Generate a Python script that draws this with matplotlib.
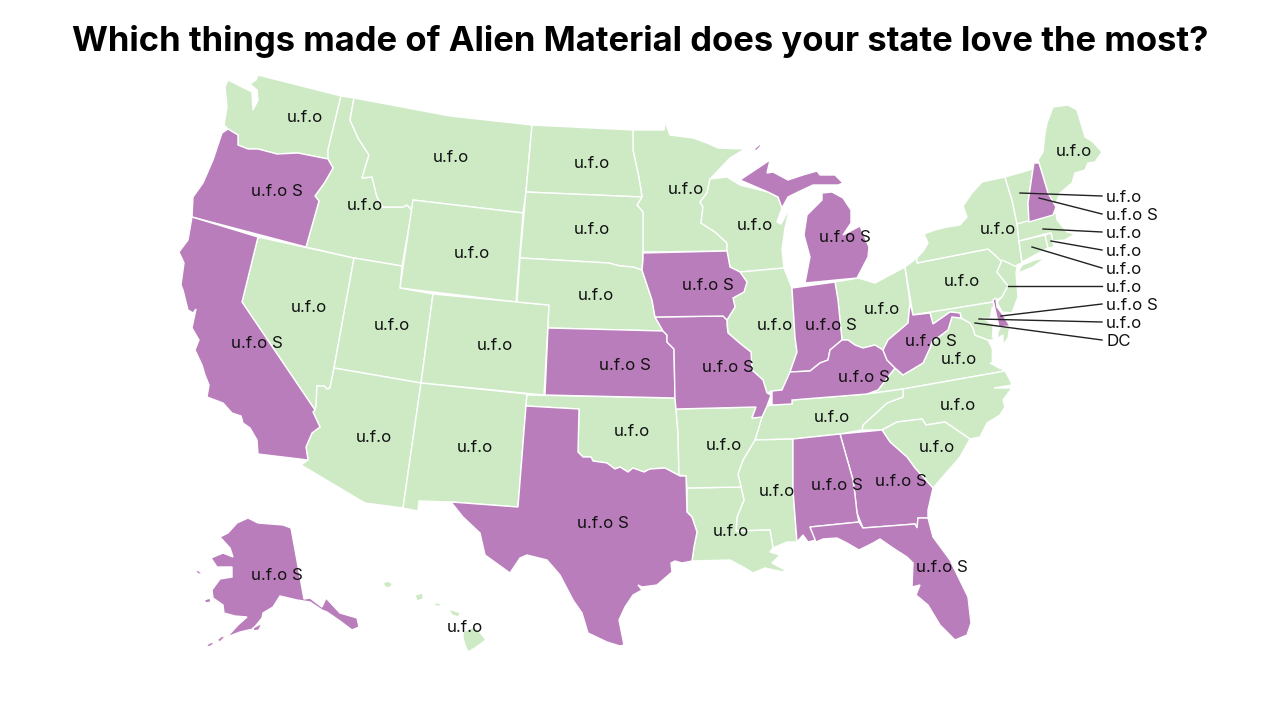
import matplotlib
matplotlib.use("Agg")
import matplotlib.pyplot as plt
from matplotlib.patches import Polygon

plt.rcParams["font.family"] = ["Inter", "DejaVu Sans"]

GREEN = "#cdeac5"
PURPLE = "#b97dbb"

# state outlines in pixels
WA = [(258,75),(341,96),(328,150),(328,159),(298,153),(277,154),(258,149),(248,149),(238,145),(238,135),(228,129),(224,125),(227,107),(225,87),(228,80),(242,87),(252,92),(253,110),(258,100),(257,90),(250,84),(256,80)]
OR = [(228,129),(238,135),(238,145),(248,149),(258,149),(277,154),(298,153),(328,159),(333,168),(325,182),(315,196),(319,201),(306,247),(192,217),(193,197),(203,183),(213,160),(222,133)]
CA = [(192,217),(258,237),(242,302),(315,410),(313,412),(320,427),(312,433),(306,447),(308,460),(258,454),(257,440),(250,428),(243,423),(241,416),(232,413),(223,403),(207,397),(209,385),(205,375),(202,365),(195,350),(199,340),(192,328),(196,309),(193,313),(188,310),(183,290),(181,285),(184,263),(179,252),(188,240)]
NV = [(258,237),(354,258),(334,368),(330,388),(327,389),(324,386),(317,386),(316,407),(315,410),(242,302)]
ID = [(341,96),(354,98),(350,120),(358,138),(369,155),(365,168),(362,178),(372,177),(377,197),(383,207),(403,207),(407,205),(412,210),(402,266),(354,258),(306,247),(319,201),(315,196),(325,182),(333,168),(328,159),(328,150)]
MT = [(354,98),(450,116),(532,125),(526,192),(523,213),(413,200),(412,210),(407,205),(403,207),(383,207),(377,197),(372,177),(362,178),(365,168),(369,155),(358,138),(350,120)]
WY = [(413,200),(523,213),(516,302),(400,288)]
UT = [(354,258),(402,266),(400,288),(433,294),(421,383),(334,368)]
CO = [(433,294),(549,305),(544,395),(421,383)]
AZ = [(334,368),(421,383),(403,508),(365,503),(301,465),(308,460),(306,447),(312,433),(320,427),(313,412),(316,407),(317,386),(324,386),(327,389),(330,388)]
NM = [(421,383),(527,394),(526,406),(518,507),(451,502),(419,501),(418,511),(403,508)]
TX = [(526,406),(579,409),(578,452),(583,457),(591,457),(593,461),(607,463),(615,469),(620,467),(628,472),(633,468),(644,472),(650,469),(665,468),(680,476),(686,476),(687,512),(692,517),(697,532),(694,547),(692,561),(682,563),(675,561),(671,563),(672,572),(657,585),(642,587),(638,585),(642,590),(633,595),(625,607),(619,620),(624,645),(620,646),(607,642),(588,633),(582,613),(573,600),(560,575),(547,560),(527,555),(520,558),(510,573),(485,555),(480,533),(463,517),(451,502),(518,507)]
OK = [(527,395),(675,398),(678,433),(679,475),(680,476),(665,468),(650,469),(644,472),(633,468),(628,472),(620,467),(615,469),(607,463),(593,461),(591,457),(583,457),(578,452),(579,409),(526,406)]
KS = [(548,328),(663,331),(667,335),(667,342),(674,349),(675,398),(545,395)]
MO = [(655,317),(723,316),(727,320),(727,325),(728,333),(742,345),(751,352),(752,370),(763,380),(767,393),(771,395),(767,406),(762,417),(752,418),(756,407),(676,409),(675,398),(674,349),(667,342),(667,335),(663,331)]
IA = [(643,253),(727,251),(730,267),(740,272),(747,282),(744,292),(733,298),(735,307),(727,320),(723,316),(655,317),(652,300),(642,270),(643,260)]
MN = [(633,130),(664,130),(665,122),(670,135),(693,138),(707,143),(718,148),(745,149),(730,158),(710,179),(707,193),(700,202),(703,207),(701,223),(715,232),(727,243),(727,251),(643,252),(643,212),(637,205),(642,197),(639,178),(633,150)]
ND = [(532,125),(633,130),(633,150),(639,178),(642,197),(526,192)]
SD = [(526,192),(642,197),(637,205),(643,212),(643,260),(642,270),(633,267),(620,266),(609,263),(520,258)]
NE = [(520,258),(609,263),(620,266),(633,267),(642,270),(652,300),(655,317),(663,331),(548,328),(549,305),(517,302)]
WI = [(710,179),(727,177),(740,185),(768,192),(778,197),(782,208),(777,222),(781,224),(790,208),(785,228),(782,250),(784,268),(740,272),(730,267),(727,251),(727,243),(715,232),(701,223),(703,207),(700,202),(707,193)]
MI_U = [(740,180),(770,160),(767,173),(773,172),(788,180),(803,175),(817,171),(820,175),(835,175),(843,183),(838,185),(825,185),(813,185),(798,192),(788,197),(782,208),(778,197),(768,192)]
MI_K = [(754,149),(760,144),(761,146),(756,151)]
MI_L = [(822,193),(832,192),(843,198),(851,210),(851,223),(843,235),(860,226),(869,247),(868,257),(857,278),(805,283),(810,257),(804,235),(807,215),(815,207),(822,200)]
IL = [(740,272),(784,268),(792,288),(795,337),(797,352),(790,372),(788,382),(782,390),(772,391),(767,393),(763,380),(752,370),(751,352),(742,345),(728,333),(727,320),(735,307),(733,298),(744,292),(747,282)]
IN = [(792,288),(835,282),(838,300),(842,340),(830,350),(828,360),(820,363),(810,371),(790,372),(797,352),(795,337)]
OH = [(835,282),(858,278),(875,283),(905,267),(910,303),(908,323),(888,340),(883,350),(875,345),(863,348),(855,345),(848,340),(842,340),(838,300)]
KY = [(842,340),(848,340),(855,345),(863,348),(875,345),(883,350),(887,360),(895,368),(878,390),(867,394),(792,400),(792,404),(772,405),(772,391),(782,390),(790,372),(810,371),(820,363),(828,360),(830,350)]
WV = [(883,350),(888,340),(908,323),(910,303),(913,315),(930,313),(933,324),(950,312),(960,313),(961,318),(952,317),(948,330),(932,342),(930,348),(923,363),(903,375),(895,368),(887,360)]
VA = [(895,368),(903,375),(923,363),(930,348),(932,342),(948,330),(952,317),(961,318),(970,323),(973,328),(975,335),(988,340),(992,348),(997,362),(990,363),(1005,371),(903,389),(867,394),(878,390)]
MD = [(913,315),(993,302),(999,327),(1010,326),(1008,338),(1003,345),(1003,335),(998,338),(992,340),(988,340),(975,335),(973,328),(970,323),(961,318),(960,313),(950,312),(933,324),(930,313)]
BAY = [(992,307),(990,318),(982,318),(993,325),(992,337),(997,343),(992,350),(992,362),(1002,362),(998,343),(998,333),(1003,322),(995,315),(996,306)]
DE = [(993,300),(996,298),(997,307),(1003,315),(1010,326),(999,327)]
PA = [(905,267),(917,258),(917,263),(988,249),(995,255),(1002,260),(997,272),(1008,286),(1002,297),(993,302),(913,315)]
NY = [(917,258),(924,250),(928,243),(924,234),(935,230),(947,227),(960,225),(967,217),(963,206),(972,193),(982,182),(1005,177),(1008,187),(1012,200),(1017,223),(1019,242),(1022,263),(1017,265),(1018,273),(1013,277),(1000,260),(995,255),(988,249),(917,263)]
LI = [(1018,273),(1033,267),(1045,258),(1035,260),(1022,265)]
VT = [(1005,177),(1033,169),(1028,203),(1029,222),(1017,224),(1012,200),(1008,187)]
NH = [(1034,163),(1039,163),(1048,193),(1056,207),(1053,215),(1029,222),(1028,203),(1033,169)]
ME = [(1039,163),(1038,160),(1043,152),(1045,133),(1047,123),(1053,107),(1068,105),(1077,110),(1085,137),(1093,142),(1102,152),(1095,162),(1088,163),(1085,170),(1075,173),(1072,183),(1060,193),(1055,206),(1048,193)]
MA = [(1017,224),(1056,213),(1057,220),(1067,232),(1075,234),(1065,240),(1053,241),(1051,233),(1045,234),(1019,241)]
CT = [(1019,241),(1045,235),(1048,248),(1022,262)]
RI = [(1045,235),(1051,233),(1054,247),(1048,248)]
NJ = [(1002,260),(1017,267),(1016,273),(1018,297),(1012,313),(1002,312),(997,302),(1002,297),(1008,286),(997,272)]
NC = [(903,389),(1005,371),(1010,380),(1012,385),(994,388),(1012,388),(1003,400),(1005,407),(1000,415),(987,423),(980,437),(970,439),(945,422),(926,425),(922,419),(897,422),(882,430),(862,430),(863,425),(887,403),(903,397)]
SC = [(882,430),(897,422),(922,419),(926,425),(945,422),(970,439),(960,457),(933,488),(915,468),(907,457),(890,442)]
TN = [(772,405),(792,404),(792,400),(867,394),(903,389),(903,397),(887,403),(863,425),(862,430),(840,434),(793,439),(755,440),(762,417),(765,407)]
GA = [(840,434),(882,430),(890,442),(907,457),(915,468),(933,488),(928,510),(928,518),(918,518),(917,528),(915,524),(863,528),(857,513),(855,495),(853,480)]
AL = [(793,439),(840,434),(853,480),(855,495),(857,513),(859,522),(810,527),(816,540),(808,542),(803,535),(797,542),(793,490)]
FL = [(810,527),(859,522),(863,528),(915,524),(917,528),(918,518),(928,518),(933,537),(950,560),(968,597),(971,623),(967,635),(955,640),(940,625),(928,605),(916,595),(920,585),(912,587),(913,563),(907,557),(893,548),(880,539),(873,543),(859,550),(847,543),(837,538),(823,539),(816,542)]
MS = [(755,440),(793,439),(793,490),(797,542),(787,542),(773,548),(770,530),(736,531),(737,517),(744,500),(741,487),(738,474),(743,460)]
LA = [(687,488),(741,487),(744,500),(737,517),(736,531),(770,530),(773,548),(770,552),(780,555),(772,563),(785,570),(783,572),(765,568),(753,573),(745,568),(730,560),(692,561),(694,547),(697,532),(692,517),(687,512)]
AR = [(676,409),(756,407),(752,418),(762,417),(755,440),(743,460),(738,474),(741,487),(687,488),(686,476),(679,475),(678,433)]
AK = [(248,518),(258,523),(283,525),(291,528),(304,599),(310,598),(322,607),(326,598),(340,613),(357,618),(359,627),(352,630),(340,621),(327,612),(322,610),(310,602),(297,600),(280,596),(273,607),(263,613),(262,618),(253,629),(240,632),(227,637),(238,625),(247,617),(235,616),(224,613),(223,605),(213,598),(212,590),(220,579),(232,577),(232,567),(217,567),(211,558),(223,553),(233,557),(230,548),(220,537),(228,533),(237,523)]
AK_1 = [(194,569),(199,571),(203,574),(198,574)]
AK_2 = [(204,600),(210,598),(211,602),(206,603)]
AK_3 = [(217,640),(222,636),(225,637),(220,642)]
AK_4 = [(206,645),(212,642),(214,644),(209,647)]
AK_5 = [(253,628),(262,623),(259,630),(254,631)]
HI_1 = [(383,583),(388,581),(393,584),(389,588),(385,587)]
HI_2 = [(415,595),(423,593),(423,599),(417,601)]
HI_3 = [(434,603),(440,603),(441,606),(435,606)]
HI_4 = [(448,608),(452,610),(461,613),(458,617),(452,615)]
HI_5 = [(463,632),(473,627),(478,630),(486,640),(475,648),(468,652),(465,645),(463,638)]

green_states = [WA, NV, ID, MT, WY, UT, CO, AZ, NM, OK, MN, ND, SD, NE, WI, IL, OH, VA, PA, NY, LI, VT, ME, MA, CT, RI, NJ, NC, SC, TN, MS, LA, AR, HI_1, HI_2, HI_3, HI_4, HI_5]
purple_states = [OR, CA, TX, KS, MO, IA, MI_U, MI_K, MI_L, IN, KY, WV, DE, NH, GA, AL, FL, AK, AK_1, AK_2, AK_3, AK_4, AK_5]

label_text = ["u.f.o", "u.f.o S", "u.f.o S", "u.f.o", "u.f.o", "u.f.o", "u.f.o", "u.f.o", "u.f.o", "u.f.o", "u.f.o",
              "u.f.o", "u.f.o", "u.f.o", "u.f.o S", "u.f.o", "u.f.o S", "u.f.o", "u.f.o S", "u.f.o S", "u.f.o", "u.f.o",
              "u.f.o", "u.f.o", "u.f.o S", "u.f.o S", "u.f.o", "u.f.o S", "u.f.o", "u.f.o", "u.f.o S", "u.f.o S", "u.f.o S",
              "u.f.o", "u.f.o", "u.f.o", "u.f.o S", "u.f.o", "u.f.o", "u.f.o", "u.f.o S", "u.f.o"]
label_x = [305, 277, 257, 309, 365, 451, 472, 392, 495, 374, 475,
           592, 592, 596, 625, 632, 603, 686, 708, 728, 724, 731,
           755, 775, 845, 831, 882, 864, 832, 777, 837, 901, 942,
           937, 958, 959, 931, 962, 998, 1074, 277, 465]
label_y = [118, 192, 344, 308, 205, 158, 253, 325, 345, 437, 448,
           163, 230, 295, 365, 431, 523, 190, 285, 367, 446, 532,
           225, 326, 238, 325, 310, 377, 417, 491, 486, 482, 568,
           447, 405, 360, 341, 282, 229, 152, 576, 627]

side_text = ["u.f.o", "u.f.o S", "u.f.o", "u.f.o", "u.f.o", "u.f.o", "u.f.o S", "u.f.o", "DC"]
side_y = [197, 215, 233, 251, 269, 287, 305, 323, 341]
leader_x = [1020, 1039, 1043, 1051, 1032, 1008, 1001, 979, 975]
leader_y = [193, 198, 229, 241, 247, 286, 316, 319, 323]
leader_end = [196, 214, 232, 250, 268, 286, 304, 322, 340]

fig = plt.figure(figsize=(12.8, 7.2), dpi=100)
ax = fig.add_axes([0, 0, 1, 1])
ax.set_xlim(0, 1280)
ax.set_ylim(720, 0)
ax.axis("off")

for shape in green_states:
    ax.add_patch(Polygon(shape, closed=True, facecolor=GREEN, edgecolor="white", linewidth=1, zorder=2))
ax.add_patch(Polygon(MD, closed=True, facecolor=GREEN, edgecolor="white", linewidth=1, zorder=2))
ax.add_patch(Polygon(BAY, closed=True, facecolor="white", edgecolor="white", linewidth=0.5, zorder=2))
for shape in purple_states:
    ax.add_patch(Polygon(shape, closed=True, facecolor=PURPLE, edgecolor="white", linewidth=1, zorder=3))

for t, x, y in zip(label_text, label_x, label_y):
    ax.text(x, y, t, ha="center", va="center", fontsize=12.2, color="#111111", zorder=5)

for t, y, lx, ly, ey in zip(side_text, side_y, leader_x, leader_y, leader_end):
    ax.plot([lx, 1102], [ly, ey], color="#222222", linewidth=1, zorder=4)
    ax.text(1106, y, t, ha="left", va="center", fontsize=12.2, color="#111111", zorder=5)

ax.text(640, 41, "Which things made of Alien Material does your state love the most?",
        ha="center", va="center", fontsize=24.9, fontweight="bold", color="black")

fig.savefig("out.png", dpi=100)
